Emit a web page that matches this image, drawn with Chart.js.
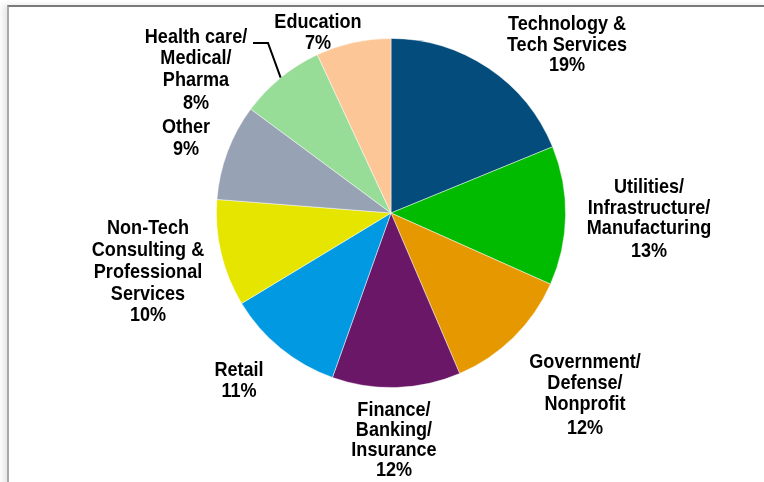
<!DOCTYPE html>
<html>
<head>
<meta charset="utf-8">
<script src="https://cdn.jsdelivr.net/npm/chart.js@4.4.1/dist/chart.umd.min.js"></script>
<style>
  html, body { margin: 0; padding: 0; background: #fff; }
  #wrap { position: relative; width: 764px; height: 482px; overflow: hidden; }
  #frame {
    position: absolute; left: 7px; top: 5px; right: -4px; bottom: -4px;
    border-top: 2px solid #7a7a7a;
    border-left: 2px solid #a8a8a8;
    box-shadow: -4px 0 6px rgba(0, 0, 0, 0.10);
  }
  canvas { position: absolute; left: 0; top: 0; }
</style>
</head>
<body>
<div id="wrap">
  <div id="frame"></div>
  <canvas id="industryPie" width="764" height="482"></canvas>
</div>
<script>
// industry split, clockwise from 12 o'clock
const sectors = [
    ["Technology &", "Tech Services"],
    ["Utilities/", "Infrastructure/", "Manufacturing"],
    ["Government/", "Defense/", "Nonprofit"],
    ["Finance/", "Banking/", "Insurance"],
    ["Retail"],
    ["Non-Tech", "Consulting &", "Professional", "Services"],
    ["Other"],
    ["Health care/", "Medical/", "Pharma"],
    ["Education"],
];
const shares = [19, 13, 12, 12, 11, 10, 9, 8, 7];
const sliceColors = [
    "#044c7c", // dark blue
    "#00bb00", // green
    "#e69800", // orange
    "#6b1768", // purple
    "#0099e2", // sky blue
    "#e5e500", // yellow
    "#97a2b4", // grey
    "#97dd97", // light green
    "#fdc697", // peach
];

// where each label block sits: centre x and baseline of every line, px
const labelPlacement = [
    { x: 567, lines: [30, 50.5, 71] },
    { x: 649, lines: [193, 213.5, 234, 257] },
    { x: 585, lines: [368, 389, 410, 434] },
    { x: 394, lines: [416, 436, 456, 476] },
    { x: 239, lines: [376, 397] },
    { x: 148, lines: [234, 256, 278, 300, 321] },
    { x: 186, lines: [133, 155] },
    { x: 196, lines: [43, 64, 86, 109] },
    { x: 318, lines: [28, 49] },
];

// text labels + the little leader line for the health care slice
const sliceLabels = {
    id: "sliceLabels",
    afterDraw(chart) {
        const ctx = chart.ctx;
        const arcs = chart.getDatasetMeta(0).data;
        ctx.save();

        // leader line from "Health care/" to its slice
        const hc = arcs[7];
        const mid = (hc.startAngle + hc.endAngle) / 2;
        const ex = hc.x + Math.cos(mid) * hc.outerRadius * 1.0;
        const ey = hc.y + Math.sin(mid) * hc.outerRadius * 1.0;
        ctx.strokeStyle = "#000";
        ctx.lineWidth = 2;
        ctx.beginPath();
        ctx.moveTo(253, 43);
        ctx.lineTo(268, 43);
        ctx.lineTo(ex, ey);
        ctx.stroke();

        ctx.fillStyle = "#000";
        ctx.font = "bold 21px 'Liberation Sans', Arial, sans-serif";
        ctx.textAlign = "center";
        ctx.textBaseline = "alphabetic";
        const squeeze = 0.86;
        sectors.forEach((name, i) => {
            const p = labelPlacement[i];
            const text = name.concat([shares[i] + "%"]);
            text.forEach((line, j) => {
                ctx.save();
                ctx.translate(p.x, p.lines[j]);
                ctx.scale(squeeze, 1);
                ctx.fillText(line, 0, 0);
                ctx.restore();
            });
        });
        ctx.restore();
    },
};

new Chart(document.getElementById("industryPie").getContext("2d"), {
    type: "pie",
    data: {
        labels: sectors.map((s) => s.join(" ")),
        datasets: [
            {
                data: shares,
                backgroundColor: sliceColors,
                borderColor: "rgba(255, 255, 255, 0.6)",
                borderWidth: 0.8,
            },
        ],
    },
    options: {
        responsive: false,
        animation: false,
        layout: {
            padding: { left: 216, right: 198, top: 38, bottom: 94 },
        },
        plugins: {
            legend: { display: false },
            tooltip: { enabled: false },
        },
    },
    plugins: [sliceLabels],
});
</script>
</body>
</html>
